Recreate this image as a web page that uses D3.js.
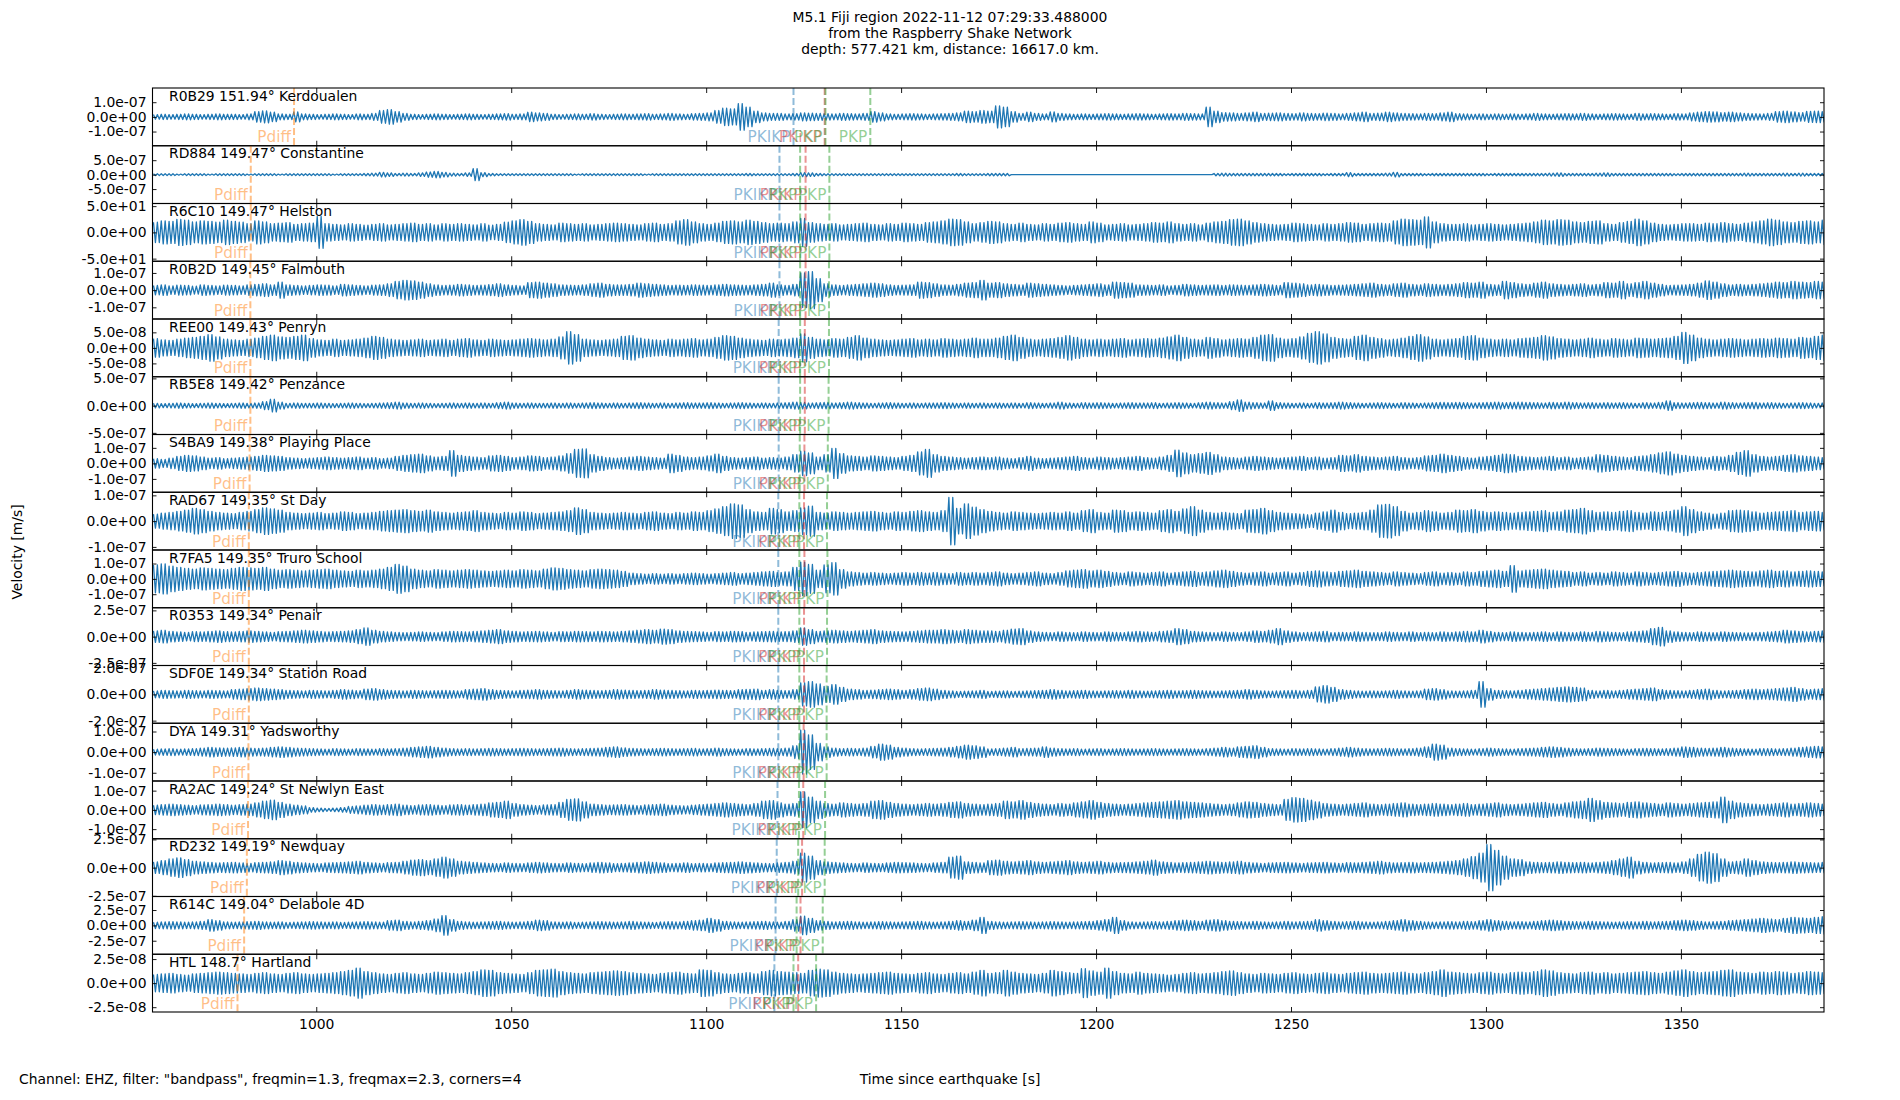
<!DOCTYPE html>
<html>
<head>
<meta charset="utf-8">
<script src="https://cdn.jsdelivr.net/npm/d3@7"></script>
<style>
body { margin: 0; background: #fff; }
text { font-family: "DejaVu Sans", sans-serif; }
</style>
</head>
<body>
<script>
// station info, top panel to bottom panel
const stations = ["R0B29", "RD884", "R6C10", "R0B2D", "REE00", "RB5E8", "S4BA9", "RAD67",
    "R7FA5", "R0353", "SDF0E", "DYA", "RA2AC", "RD232", "R614C", "HTL"];
const distances = ["151.94", "149.47", "149.47", "149.45", "149.43", "149.42", "149.38", "149.35",
    "149.35", "149.34", "149.34", "149.31", "149.24", "149.19", "149.04", "148.7"];
const places = ["Kerdoualen", "Constantine", "Helston", "Falmouth", "Penryn", "Penzance", "Playing Place", "St Day",
    "Truro School", "Penair", "Station Road", "Yadsworthy", "St Newlyn East", "Newquay", "Delabole 4D", "Hartland"];

// y limit (symmetric) and tick value of each panel
const yLimits = [1.97e-7, 1.0e-6, 55, 1.68e-7, 9.3e-8, 5.3e-7, 1.86e-7, 1.12e-7,
    1.88e-7, 2.75e-7, 2.2e-7, 1.4e-7, 1.5e-7, 2.56e-7, 4.7e-7, 3.0e-8];
const yTickVals = [1e-7, 5e-7, 50, 1e-7, 5e-8, 5e-7, 1e-7, 1e-7,
    1e-7, 2.5e-7, 2e-7, 1e-7, 1e-7, 2.5e-7, 2.5e-7, 2.5e-8];

// phase arrival times [s]
const pdiffTimes = [994.3, 983.2, 983.2, 983.1, 983.1, 983.1, 982.9, 982.7,
    982.7, 982.7, 982.7, 982.6, 982.5, 982.2, 981.5, 979.8];
const pkikpTimes = [1122.4, 1118.8, 1118.8, 1118.8, 1118.6, 1118.6, 1118.6, 1118.5,
    1118.5, 1118.5, 1118.5, 1118.5, 1118.3, 1118.1, 1117.8, 1117.5];
const pkikpInnerTimes = [1130.4, 1125.5, 1125.5, 1125.5, 1125.3, 1125.3, 1125.2, 1125.1,
    1125.2, 1125.1, 1125.1, 1125.0, 1124.9, 1124.6, 1124.2, 1123.6];
const pkpTimesA = [1130.6, 1124.1, 1124.1, 1124.1, 1124.1, 1124.1, 1124.0, 1123.9,
    1123.9, 1123.9, 1123.9, 1123.9, 1123.8, 1123.6, 1123.2, 1122.4];
const pkpTimesB = [1142.1, 1131.6, 1131.6, 1131.5, 1131.5, 1131.4, 1131.2, 1131.0,
    1131.1, 1131.0, 1130.9, 1130.9, 1130.5, 1130.4, 1129.9, 1128.2];

const xTickVals = [1000, 1050, 1100, 1150, 1200, 1250, 1300, 1350];
const timeStart = 958, timeEnd = 1386.7, binWidth = 2;

// trace half-amplitude in each 2 s window, % of the panel's y limit
const envR0B29 = [8,9,8,9,10,9,8,9,10,9, 9,8,10,18,21,16,10,9,17,10, 9,8,9,10,9,8,10,9,12,22, 25,18,12,9,8,9,10,9,8,9,
    10,9,8,9,10,11,9,10,16,14, 12,9,8,9,10,9,11,9,8,9, 10,9,10,11,9,10,12,10,9,11, 12,14,22,30,28,46,34,20,14,12,
    12,10,11,14,13,12,11,10,12,11, 10,12,18,14,10,9,10,11,10,9, 10,11,12,14,20,18,22,
    20,38,34,18,12,16,12,10,17,12, 10,9,10,9,10,11,10,9,10,11, 10,9,10,11,10,12,11,10,34,20, 15,14,12,14,16,12,13,14,12,11,
    14,12,11,13,12,10,12,14,16,12, 13,16,14,12,11,10,12,11,14,16, 11,10,9,10,9,10,9,10,9,10, 12,10,9,10,11,10,12,10,9,10,
    11,10,9,12,10,11,10,9,11,10, 14,16,18,17,15,16,14,12,11,10, 12,18,20,17,15,19,20,18];
const envRD884 = [3,3,3,2,3,3,3,2,3,3, 3,3,2,3,3,3,2,3,3,3, 3,3,3,2,3,3,3,4,5,8, 6,4,5,4,6,9,11,8,5,4,
    6,21,7,4,3,3,3,3,3,3, 3,3,3,3,2,3,3,3,3,3, 3,3,3,2,3,3,3,3,3,3, 3,3,3,3,3,3,4,3,3,3,
    3,3,4,7,6,4,3,3,3,3, 3,3,3,3,3,3,3,3,3,3, 3,3,3,4,3,3,3,
    4,4,4,0,0,0,0,0,0,0, 0,0,0,0,0,0,0,0,0,0, 0,0,0,0,0,0,0,0,0,4, 5,4,4,4,4,4,4,4,3,4,
    4,4,4,3,4,4,7,4,4,4, 4,5,8,4,4,4,3,4,4,4, 4,4,4,4,3,4,4,4,4,4, 4,4,5,6,4,4,4,4,5,6,
    4,4,4,4,4,4,4,4,3,4, 4,4,4,4,4,4,4,5,4,4, 4,4,5,4,5,4,4,4];
const envR6C10 = [35,40,38,45,42,36,40,38,35,42, 38,35,30,40,36,30,32,34,28,30, 32,55,30,28,26,30,28,25,28,30, 26,28,30,32,28,30,26,30,28,30,
    28,26,30,25,28,35,40,44,38,30, 28,26,32,30,28,30,26,28,30,32, 30,28,26,30,32,28,30,40,44,36, 30,28,32,38,40,36,42,38,34,30,
    32,30,36,48,34,30,28,30,26,28, 30,32,28,26,30,28,32,30,28,34, 36,40,46,44,36,30,34,
    38,36,30,28,32,28,26,30,28,32, 34,30,28,36,32,26,28,30,26,28, 30,34,32,36,30,28,30,26,32,36, 38,44,46,40,34,30,28,26,28,32,
    30,28,26,30,28,30,34,32,28,30, 32,30,40,46,44,42,54,36,30,28, 28,30,26,28,30,28,26,28,30,32, 36,42,40,44,42,36,34,38,40,30,
    28,34,38,46,40,32,28,26,28,30, 30,28,32,30,34,30,28,32,36,40, 46,42,36,34,38,40,36,42];
const envR0B2D = [16,18,15,17,16,14,18,16,15,17, 16,15,18,20,22,18,28,18,16,15, 16,18,17,15,20,18,16,15,17,18, 22,30,34,32,28,22,18,16,17,20,
    18,16,17,19,22,18,16,15,26,28, 24,22,18,17,16,18,22,24,20,18, 18,20,24,22,20,18,16,17,16,18, 17,16,18,20,18,17,16,18,20,24,
    18,16,20,60,64,40,22,18,16,18, 20,22,24,22,18,16,17,18,28,26, 22,18,17,20,24,26,34,
    24,26,22,20,18,24,22,20,18,16, 15,16,18,20,22,18,28,26,24,18, 17,16,18,15,16,20,18,16,17,18, 16,18,17,16,18,20,18,16,26,24,
    22,18,20,18,16,17,18,20,22,24, 20,18,22,24,20,18,22,20,18,20, 22,26,24,28,20,18,30,26,22,20, 24,28,22,20,18,20,22,18,20,26,
    24,30,22,26,30,24,20,16,17,18, 20,24,32,28,22,18,20,18,20,22, 24,28,26,30,28,26,30,28];
const envREE00 = [32,28,26,30,34,36,40,46,38,30, 28,26,30,34,40,44,38,36,40,44, 32,28,26,30,26,28,30,34,40,36, 30,28,26,28,30,26,28,30,26,30,
    32,28,26,30,28,26,28,30,32,30, 28,30,38,56,46,30,28,26,28,30, 40,42,34,30,28,26,30,28,30,32, 28,30,36,42,40,34,30,28,26,30,
    28,30,34,48,36,30,28,32,30,36, 42,34,30,28,26,28,30,32,28,30, 28,32,30,28,30,34,30,
    30,34,40,44,36,30,28,30,32,36, 42,36,30,28,30,28,30,32,28,30, 32,30,34,38,44,36,30,28,36,32, 28,30,32,30,36,44,46,34,30,32,
    38,50,56,48,36,32,30,40,44,36, 32,28,30,34,40,46,38,30,28,30, 32,40,42,34,30,28,30,28,32,34, 36,42,38,32,30,28,30,34,30,28,
    32,30,28,34,32,30,32,34,40,54, 44,34,30,28,30,32,30,28,30,32, 30,34,32,30,36,34,40,44];
const envRB5E8 = [8,7,8,9,8,7,8,9,8,7, 8,9,8,9,14,22,12,8,9,8, 8,9,8,7,8,9,8,7,8,9, 10,12,9,8,9,8,7,8,9,8,
    9,8,9,8,10,12,9,8,9,8, 8,9,8,9,8,9,10,9,8,9, 8,9,10,9,8,9,8,9,10,9, 9,10,9,8,9,10,9,8,9,8,
    9,10,12,11,9,10,11,9,10,12, 10,9,8,9,10,9,8,9,8,9, 9,10,9,8,9,8,9,
    8,9,8,9,8,10,9,8,9,12, 9,8,10,9,10,9,8,9,10,9, 9,10,8,9,10,9,8,10,12,10, 9,14,20,12,10,9,16,10,9,8,
    9,8,10,9,10,12,10,9,8,9, 10,9,8,10,9,8,9,10,11,10, 11,10,9,10,11,12,10,11,12,11, 10,9,11,10,12,10,9,10,9,10,
    9,10,9,8,10,9,11,16,10,9, 10,11,10,9,12,10,9,10,11,9, 10,9,8,9,10,9,8,9];
const envS4BA9 = [16,14,18,24,28,26,22,18,20,16, 18,20,22,24,28,26,24,20,18,16, 18,20,22,20,18,20,22,18,20,16, 18,24,28,30,32,26,22,24,44,28,
    24,22,20,26,28,24,20,22,26,24, 20,22,26,34,48,50,30,24,20,18, 20,22,24,22,20,18,32,28,22,20, 22,26,32,24,20,18,20,22,18,20,
    18,22,30,42,36,22,30,52,34,26, 24,22,26,24,22,20,24,28,40,48, 30,24,22,20,18,20,22,
    20,22,18,16,20,24,18,16,18,20, 22,24,20,18,22,20,18,20,22,24, 20,18,22,28,46,36,30,34,38,30, 22,20,18,22,24,22,20,18,20,22,
    24,20,22,18,20,28,26,30,24,22, 20,22,24,20,18,20,26,28,32,28, 24,20,18,22,24,28,32,30,24,22, 20,22,24,20,22,18,20,22,30,28,
    24,22,20,24,26,30,36,40,32,28, 24,22,20,24,22,28,38,44,30,24, 22,24,28,30,26,24,22,20];
const envRAD67 = [24,28,30,34,38,44,40,34,30,28, 26,30,34,40,46,42,38,30,28,26, 28,30,26,28,32,30,26,28,30,34, 36,38,40,36,34,38,32,30,28,30,
    32,36,30,28,26,30,28,32,30,26, 28,30,32,36,46,40,30,28,26,28, 30,28,26,30,32,28,26,30,28,32, 30,36,42,50,60,56,40,32,30,44,
    40,32,36,46,52,30,28,32,30,28, 30,32,34,30,28,32,30,34,36,32, 30,36,82,44,60,48,40,
    34,30,28,32,30,28,26,28,30,28, 32,28,36,40,30,28,38,36,30,32, 30,28,36,40,34,42,50,38,30,28, 30,28,26,38,40,44,36,30,28,26,
    24,22,28,32,38,30,26,28,30,38, 56,58,50,34,28,30,36,32,28,30, 38,36,40,34,30,32,30,28,30,32, 34,36,30,32,38,40,44,36,30,32,
    30,34,36,30,28,32,30,34,38,50, 40,32,28,24,28,36,38,36,32,28, 30,32,34,36,30,32,34,30];
const envR7FA5 = [48,52,44,40,36,34,38,36,34,32, 36,40,38,36,40,34,30,32,30,28, 30,32,34,30,28,26,30,28,30,34, 40,50,44,34,30,28,32,30,28,30,
    32,30,28,26,28,30,28,32,30,28, 34,38,36,32,30,28,32,34,32,30, 26,20,18,16,18,16,18,16,18,20, 18,16,18,20,22,18,20,22,24,26,
    22,24,40,58,50,30,48,56,32,24, 22,20,22,20,18,20,22,20,22,20, 22,20,18,22,20,22,20,
    22,24,20,18,20,22,24,20,18,22, 28,30,32,28,30,26,22,20,24,22, 20,22,24,20,22,24,26,22,24,28, 30,26,22,20,22,24,20,22,24,20,
    22,26,28,24,22,26,28,30,26,24, 22,20,24,22,20,18,22,24,20,22, 20,24,22,26,28,30,26,46,28,30, 32,34,30,28,26,22,24,20,22,20,
    24,22,20,24,22,20,22,24,26,22, 20,22,24,26,28,30,28,26,24,28, 30,26,28,24,26,28,26,24];
const envR0353 = [20,22,18,16,15,17,16,18,20,17, 16,18,20,18,16,15,17,18,20,22, 20,18,16,17,18,20,24,30,22,18, 16,15,14,15,16,15,14,16,18,17,
    16,18,20,22,24,20,18,16,17,18, 16,15,17,16,18,17,16,18,17,16, 18,20,22,24,22,26,24,20,18,17, 16,15,17,16,18,17,15,16,17,18,
    16,17,20,30,24,18,20,22,20,18, 20,22,24,20,18,17,16,18,20,22, 22,24,22,20,24,22,20,
    20,18,22,26,28,20,16,15,14,16, 15,14,16,15,14,16,15,14,16,18, 16,15,18,20,28,24,18,16,15,14, 16,15,14,16,20,18,22,28,20,16,
    14,15,16,18,14,15,14,16,15,14, 14,16,15,14,16,14,15,14,16,15, 16,18,16,22,18,15,14,16,15,14, 15,16,14,16,15,14,16,15,18,16,
    15,14,16,18,20,28,32,20,16,15, 14,16,15,14,16,15,14,13,14,15, 16,18,22,20,18,16,18,20];
const envSDF0E = [12,14,13,12,14,13,12,14,13,12, 16,18,20,22,20,18,16,14,13,12, 14,13,12,14,16,15,13,18,20,16, 14,13,12,14,13,12,13,14,13,12,
    16,18,20,16,14,13,12,14,15,16, 14,13,12,14,16,15,14,13,14,16, 15,14,13,14,16,15,14,13,12,14, 13,14,15,14,13,16,17,18,14,16,
    14,13,16,40,44,36,28,34,24,18, 16,14,15,16,18,16,14,16,20,22, 18,14,12,10,11,12,14,
    10,11,12,10,11,12,13,14,16,14, 12,13,14,12,11,12,13,12,14,12, 11,12,13,14,12,13,14,13,12,11, 12,13,14,16,14,12,11,12,13,14,
    12,14,26,30,24,16,14,12,11,12, 11,12,14,12,11,12,18,20,16,12, 11,12,14,44,20,14,13,12,14,16, 18,20,22,24,26,24,22,14,12,14,
    12,14,16,18,20,22,16,14,13,12, 14,16,18,14,12,13,14,16,18,16, 18,20,22,24,20,16,18,20];
const envDYA = [10,11,12,10,11,12,14,16,15,14, 15,16,14,13,14,16,18,16,14,13, 12,11,10,12,11,10,12,11,10,12, 11,12,14,16,18,20,16,14,12,11,
    12,11,12,13,12,11,12,13,12,11, 12,13,14,12,11,12,13,14,16,18, 15,13,12,11,12,13,12,11,12,13, 11,12,14,12,11,10,12,11,12,13,
    12,14,22,76,60,30,18,14,12,13, 12,14,20,28,24,16,14,12,11,12, 13,14,16,20,24,22,18,
    11,12,14,16,12,13,14,18,14,12, 11,12,10,11,12,10,11,12,11,10, 11,12,11,10,11,12,11,10,12,14, 16,14,18,20,22,16,12,11,10,12,
    11,12,11,10,12,14,16,14,12,11, 12,13,12,11,12,14,18,28,24,14, 12,11,10,12,14,12,11,10,12,13, 14,16,18,16,14,12,11,12,14,13,
    12,11,10,12,13,12,11,12,14,18, 16,14,13,14,16,14,12,11,10,12, 12,11,12,14,16,18,20,18];
const envRA2AC = [16,18,20,18,16,15,17,18,20,18, 16,18,20,24,30,34,26,20,16,14, 8,6,5,6,8,12,14,16,18,16, 18,20,16,15,17,18,16,15,17,18,
    16,18,20,24,26,30,22,18,16,15, 17,18,26,36,38,28,20,18,16,17, 18,16,15,17,18,20,16,15,14,16, 18,20,22,24,22,20,18,22,30,32,
    24,20,22,62,44,30,22,20,24,22, 20,22,30,32,26,22,20,18,20,22, 20,22,26,28,22,20,18,
    20,22,30,28,32,26,22,20,18,22, 20,24,28,32,26,22,20,18,20,22, 24,26,28,30,32,28,26,24,22,20, 18,20,24,28,26,22,20,18,36,42,
    40,34,28,22,20,18,20,22,24,20, 18,20,22,24,20,18,20,22,20,18, 20,22,18,20,22,24,20,18,20,22, 24,26,22,20,24,28,30,40,32,26,
    24,22,26,28,24,22,20,24,22,20, 22,24,26,28,44,30,24,22,20,18, 20,22,24,20,22,24,22,20];
const envRD232 = [20,24,30,34,28,22,20,18,16,17, 18,16,15,17,18,20,24,22,18,16, 15,14,16,17,18,20,22,18,16,15, 17,18,22,26,28,24,30,36,30,22,
    20,18,16,15,14,16,15,14,16,18, 16,15,14,16,15,14,16,18,16,14, 15,16,18,20,18,16,14,15,16,14, 15,14,16,17,18,20,18,16,15,14,
    16,18,22,50,40,24,20,18,16,15, 14,16,15,14,16,18,17,16,15,14, 16,18,36,40,20,18,16,
    24,26,22,20,22,24,20,18,20,22, 24,20,18,20,22,18,16,17,18,20, 22,26,20,18,16,17,18,20,22,20, 18,20,22,18,16,15,16,17,18,16,
    15,16,17,18,16,15,17,16,18,20, 22,18,16,17,18,16,17,18,20,22, 24,30,38,50,80,60,40,30,28,20, 18,17,18,20,18,17,18,16,18,20,
    24,30,36,22,18,16,17,18,16,20, 30,46,54,48,30,20,22,30,24,20, 18,17,18,20,18,17,16,18];
const envR614C = [11,12,13,12,11,12,14,20,16,12, 11,12,13,14,12,11,12,10,11,12, 13,12,11,12,10,11,12,13,12,11, 16,18,14,12,14,16,22,34,20,14,
    12,11,12,13,14,12,11,12,14,18, 16,12,11,12,10,11,12,13,12,11, 12,14,12,11,10,12,13,12,14,16, 18,24,20,14,12,11,12,13,14,12,
    11,14,20,32,24,16,14,12,13,14, 12,11,12,13,12,11,12,13,14,12, 11,12,14,16,14,18,28,
    14,12,11,12,13,12,11,12,13,12, 11,12,13,14,16,20,28,16,12,11, 12,13,12,14,16,18,16,14,18,20, 16,14,13,12,14,12,11,12,14,12,
    13,14,20,16,14,12,13,14,12,11, 12,14,16,20,16,14,12,11,12,13, 12,14,13,16,20,16,14,12,13,12, 14,16,18,16,14,13,12,14,13,12,
    11,12,13,12,14,12,13,14,16,18, 16,14,12,13,14,16,18,20,22,24, 22,20,24,28,26,24,28,30];
const envHTL = [30,32,34,30,28,32,34,36,38,36, 34,32,30,34,36,32,30,34,36,32, 30,32,34,36,40,44,52,40,36,32, 30,34,36,32,30,34,38,36,34,32,
    36,40,46,44,36,34,32,30,36,44, 46,48,40,36,34,32,36,38,40,42, 40,36,34,32,30,34,36,38,34,32, 46,44,36,32,30,34,36,32,40,44,
    40,38,36,34,44,48,46,38,34,32, 30,32,34,36,38,34,32,30,34,36, 32,30,34,36,32,38,44,
    34,36,44,38,34,32,30,34,44,40, 36,34,50,42,38,52,40,34,32,38, 34,32,30,28,30,34,36,32,34,36, 40,42,36,32,30,34,32,30,34,36,
    32,30,34,36,32,30,34,36,38,34, 32,34,36,38,34,32,36,40,46,38, 36,34,32,36,38,34,32,36,38,36, 40,46,42,36,34,32,36,38,34,36,
    32,34,36,38,40,36,34,38,42,46, 40,36,38,40,44,46,38,36,34,38, 36,40,38,34,36,40,38,36];

const envelopes = [envR0B29, envRD884, envR6C10, envR0B2D, envREE00, envRB5E8, envS4BA9, envRAD67,
    envR7FA5, envR0353, envSDF0E, envDYA, envRA2AC, envRD232, envR614C, envHTL];

const phases = [
    { name: "Pdiff", color: "#ff7f0e", times: pdiffTimes },
    { name: "PKIKP", color: "#1f77b4", times: pkikpTimes },
    { name: "PKiKP", color: "#d62728", times: pkikpInnerTimes },
    { name: "PKP", color: "#2ca02c", times: pkpTimesA },
    { name: "PKP", color: "#2ca02c", times: pkpTimesB }
];

const width = 1900, height = 1100;
const margin = { top: 88, right: 76, bottom: 88, left: 152.5 };
const fontPx = 13.9, phaseFontPx = 15.3;

const svg = d3.select("body").append("svg")
    .attr("width", width)
    .attr("height", height)
    .style("display", "block");

const x = d3.scaleLinear()
    .domain([timeStart, timeEnd])
    .range([margin.left, width - margin.right]);

const band = d3.scaleBand()
    .domain(d3.range(stations.length))
    .range([margin.top, height - margin.bottom]);
const ph = band.bandwidth();

// matplotlib style "1.0e-07"
function sci(v) {
    if (v === 0) return "0.0e+00";
    const parts = v.toExponential(1).split("e");
    const n = +parts[1];
    return parts[0] + "e" + (n < 0 ? "-" : "+") + String(Math.abs(n)).padStart(2, "0");
}

const line = d3.line().x(d => x(d[0])).y(d => d[1]);

stations.forEach((st, i) => {
    const g = svg.append("g").attr("transform", "translate(0," + band(i) + ")");
    const y = d3.scaleLinear().domain([-yLimits[i], yLimits[i]]).range([ph, 0]);

    g.append("clipPath").attr("id", "clip" + i)
        .append("rect")
        .attr("x", x.range()[0]).attr("y", 0)
        .attr("width", x.range()[1] - x.range()[0]).attr("height", ph);

    // each 2 s window drawn as a wiggle of its half-amplitude
    const pts = [];
    envelopes[i].forEach((v, j) => {
        const a = v / 100 * yLimits[i];
        for (let k = 0; k < 4; k++) {
            const t = timeStart + j * binWidth + (k + 0.5) * binWidth / 4;
            pts.push([t, y(k % 2 === 0 ? a : -a)]);
        }
    });
    g.append("path")
        .attr("clip-path", "url(#clip" + i + ")")
        .attr("d", line(pts))
        .attr("fill", "none")
        .attr("stroke", "#1f77b4")
        .attr("stroke-width", 1.3)
        .attr("stroke-linejoin", "round");

    // phase arrivals
    phases.forEach(p => {
        const px = x(p.times[i]);
        g.append("line")
            .attr("x1", px).attr("x2", px)
            .attr("y1", 0).attr("y2", ph)
            .attr("stroke", p.color)
            .attr("stroke-opacity", 0.5)
            .attr("stroke-width", 2)
            .attr("stroke-dasharray", "7,3");
        g.append("text")
            .attr("x", px - 3)
            .attr("y", ph - 3.5)
            .attr("text-anchor", "end")
            .attr("font-size", phaseFontPx)
            .attr("fill", p.color)
            .attr("fill-opacity", 0.5)
            .text(p.name);
    });

    // axes, ticks pointing inwards
    const yt = [-yTickVals[i], 0, yTickVals[i]];
    const last = i === stations.length - 1;
    const axes = [
        d3.axisTop(x).tickValues(xTickVals).tickSizeInner(-5).tickSizeOuter(0).tickFormat(""),
        d3.axisBottom(x).tickValues(xTickVals).tickSizeInner(-5).tickSizeOuter(0).tickPadding(7)
            .tickFormat(last ? d3.format("d") : ""),
        d3.axisLeft(y).tickValues(yt).tickSizeInner(-4).tickSizeOuter(0).tickPadding(6).tickFormat(sci),
        d3.axisRight(y).tickValues(yt).tickSizeInner(-4).tickSizeOuter(0).tickFormat("")
    ];
    const shifts = ["translate(0,0)", "translate(0," + ph + ")",
        "translate(" + x.range()[0] + ",0)", "translate(" + x.range()[1] + ",0)"];
    axes.forEach((ax, n) => {
        const a = g.append("g").attr("transform", shifts[n]).call(ax);
        a.select(".domain").remove();
        a.attr("font-family", null).attr("font-size", fontPx);
        a.selectAll("line").attr("stroke", "#000").attr("stroke-width", 0.9);
        a.selectAll("text").attr("fill", "#000");
    });

    g.append("rect")
        .attr("x", x.range()[0]).attr("y", 0)
        .attr("width", x.range()[1] - x.range()[0]).attr("height", ph)
        .attr("fill", "none")
        .attr("stroke", "#000")
        .attr("stroke-width", 1.1);

    g.append("text")
        .attr("x", 169)
        .attr("y", 12.5)
        .attr("font-size", fontPx)
        .text(st + " " + distances[i] + "\u00b0 " + places[i]);
});

// titles
const titleLines = ["M5.1 Fiji region 2022-11-12 07:29:33.488000",
    "from the Raspberry Shake Network",
    "depth: 577.421 km, distance: 16617.0 km."];
svg.append("g").selectAll("text")
    .data(titleLines)
    .enter().append("text")
    .attr("x", width / 2)
    .attr("y", (d, k) => 21.7 + k * 16.2)
    .attr("text-anchor", "middle")
    .attr("font-size", fontPx)
    .text(d => d);

svg.append("text")
    .attr("x", 19).attr("y", 1084)
    .attr("font-size", fontPx)
    .text("Channel: EHZ, filter: \"bandpass\", freqmin=1.3, freqmax=2.3, corners=4");

svg.append("text")
    .attr("x", width / 2).attr("y", 1084)
    .attr("text-anchor", "middle")
    .attr("font-size", fontPx)
    .text("Time since earthquake [s]");

svg.append("text")
    .attr("transform", "translate(22,552) rotate(-90)")
    .attr("text-anchor", "middle")
    .attr("font-size", fontPx)
    .text("Velocity [m/s]");
</script>
</body>
</html>
